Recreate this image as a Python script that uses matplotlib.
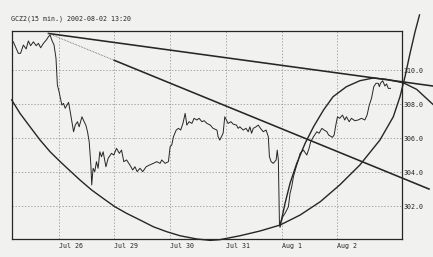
"""Intraday GCZ2 (15 min.) price chart with hand-drawn trend lines and arcs."""
import matplotlib
matplotlib.use("Agg")
import matplotlib.pyplot as plt

# ---- data (x = trading day index, Jul 26 = 1 ... Aug 2 = 6) ------------------

day_labels = ["Jul 26", "Jul 29", "Jul 30", "Jul 31", "Aug 1", "Aug 2"]
day_ticks = [1, 2, 3, 4, 5, 6]
price_ticks = [302.0, 304.0, 306.0, 308.0, 310.0]

price_t = [
    0.19, 0.28, 0.32, 0.37, 0.42, 0.46, 0.50, 0.55, 0.60, 0.64, 0.68, 0.73,
    0.78, 0.82, 0.85, 0.88, 0.92, 0.955, 0.98, 1.01, 1.06, 1.09, 1.12, 1.18,
    1.21, 1.24, 1.27, 1.30, 1.34, 1.37, 1.42, 1.46, 1.49, 1.52, 1.55, 1.58,
    1.595, 1.62, 1.65, 1.68, 1.71, 1.74, 1.77, 1.80, 1.85, 1.89, 1.95, 1.99,
    2.04, 2.09, 2.13, 2.17, 2.22, 2.28, 2.33, 2.37, 2.41, 2.46, 2.51, 2.57,
    2.63, 2.70, 2.76, 2.82, 2.85, 2.91, 2.97, 3.00, 3.03, 3.06, 3.11, 3.15,
    3.19, 3.23, 3.27, 3.30, 3.34, 3.39, 3.43, 3.48, 3.52, 3.57, 3.61, 3.66,
    3.72, 3.77, 3.84, 3.86, 3.89, 3.92, 3.95, 3.98, 4.01, 4.04, 4.09, 4.13,
    4.19, 4.22, 4.25, 4.31, 4.36, 4.40, 4.43, 4.46, 4.49, 4.54, 4.58, 4.62,
    4.67, 4.72, 4.76, 4.78, 4.81, 4.85, 4.90, 4.92, 4.94, 4.96, 5.02, 5.06,
    5.12, 5.15, 5.18, 5.21, 5.26, 5.30, 5.33, 5.39, 5.45, 5.49, 5.52, 5.57,
    5.63, 5.67, 5.72, 5.76, 5.81, 5.84, 5.87, 5.91, 5.94, 5.97, 6.00, 6.04,
    6.09, 6.13, 6.16, 6.21, 6.25, 6.31, 6.37, 6.43, 6.49, 6.53, 6.57, 6.61,
    6.65, 6.69, 6.73, 6.75, 6.77, 6.81, 6.85, 6.88, 6.91, 6.95,
]
price_v = [
    311.66, 310.98, 310.98, 311.47, 311.24, 311.71, 311.43, 311.66, 311.43,
    311.57, 311.31, 311.57, 311.76, 311.96, 312.06, 311.76, 311.47, 310.69,
    309.12, 308.72, 307.94, 308.04, 307.75, 308.10, 307.55, 306.96, 306.37,
    306.76, 306.96, 306.66, 307.25, 306.96, 306.76, 306.37, 305.78, 304.41,
    303.24, 304.22, 304.02, 304.61, 304.22, 305.19, 304.90, 305.19, 304.31,
    304.81, 305.10, 305.00, 305.39, 305.10, 305.29, 304.61, 304.71, 304.41,
    304.12, 304.31, 304.02, 304.22, 304.02, 304.31, 304.41, 304.51, 304.61,
    304.51, 304.71, 304.51, 304.61, 305.49, 305.59, 306.08, 306.47, 306.57,
    306.47, 306.86, 307.45, 306.76, 306.96, 306.86, 307.16, 307.06, 307.16,
    306.96, 307.02, 306.86, 306.76, 306.57, 306.47, 306.08, 305.88, 306.08,
    306.28, 307.25, 307.06, 306.86, 306.96, 306.82, 306.76, 306.57, 306.66,
    306.47, 306.57, 306.37, 306.66, 306.28, 306.57, 306.66, 306.76, 306.57,
    306.37, 306.47, 306.08, 304.90, 304.61, 304.51, 304.71, 305.29, 304.71,
    300.88, 301.37, 301.57, 301.96, 302.75, 303.14, 303.72, 304.31, 304.71,
    305.10, 305.29, 305.00, 305.39, 305.78, 306.08, 306.37, 306.28, 306.57,
    306.47, 306.37, 306.18, 306.12, 306.04, 306.18, 306.76, 307.25, 307.16,
    307.35, 307.06, 307.25, 306.96, 307.16, 307.02, 307.06, 307.16, 307.06,
    307.35, 307.94, 308.34, 309.02, 309.22, 309.22, 309.02, 309.22, 309.37,
    309.06, 309.18, 308.92, 308.92,
]

# trend lines drawn from the Jul 26 high
upper_line_t = [0.82, 7.71]
upper_line_v = [312.15, 309.06]
fan_dotted_t = [0.82, 2.00]
fan_dotted_v = [312.15, 310.57]
fan_solid_t = [2.00, 7.64]
fan_solid_v = [310.57, 303.00]

# large arc under the whole move
big_arc_t = [
    0.161, 0.31, 0.49, 0.67, 0.85, 1.03, 1.21, 1.385, 1.595, 1.80, 2.01,
    2.22, 2.46, 2.70, 2.94, 3.18, 3.48, 3.72, 3.89, 4.25, 4.61, 4.97, 5.33,
    5.69, 6.04, 6.40, 6.76, 7.00, 7.12, 7.21, 7.30, 7.39, 7.47,
]
big_arc_v = [
    308.24, 307.45, 306.66, 305.88, 305.19, 304.61, 304.06, 303.53, 302.94,
    302.45, 301.96, 301.57, 301.18, 300.78, 300.49, 300.25, 300.06, 299.98,
    300.02, 300.25, 300.53, 300.88, 301.47, 302.25, 303.24, 304.41, 305.88,
    307.25, 308.43, 309.61, 310.98, 312.25, 313.24,
]

# small arc from the Aug 1 low
small_arc_t = [
    4.97, 5.06, 5.15, 5.27, 5.42, 5.57, 5.75, 5.92, 6.16, 6.40, 6.64, 6.88,
    7.18, 7.42, 7.71,
]
small_arc_v = [
    300.78, 302.16, 303.34, 304.51, 305.69, 306.66, 307.65, 308.43, 309.02,
    309.37, 309.53, 309.45, 309.25, 308.86, 307.98,
]

# ---- style -------------------------------------------------------------------

PAPER = "#f1f1ef"
INK = "#262626"
MONO = "DejaVu Sans Mono"

fig = plt.figure(figsize=(4.33, 2.57), dpi=100, facecolor=PAPER)
ax = fig.add_axes([0.027, 0.070, 0.9014, 0.811], facecolor=PAPER)

ax.set_xlim(0.161, 7.156)
ax.set_ylim(300.06, 312.32)

# grid
ax.set_xticks(day_ticks)
ax.set_yticks(price_ticks)
ax.grid(True, color="#8a8a8a", linewidth=0.5, linestyle=(0, (2, 2.5)))
ax.set_axisbelow(True)

# price
ax.plot(price_t, price_v, color=INK, linewidth=0.7, zorder=3)

# trend lines / arcs (allowed to run past the frame, like the original)
ax.plot(upper_line_t, upper_line_v, color=INK, linewidth=1.15,
        clip_on=False, zorder=4)
ax.plot(fan_dotted_t, fan_dotted_v, color="#666666", linewidth=0.6,
        linestyle=(0, (1, 1)), clip_on=False, zorder=4)
ax.plot(fan_solid_t, fan_solid_v, color=INK, linewidth=1.15,
        clip_on=False, zorder=4)
ax.plot(big_arc_t, big_arc_v, color=INK, linewidth=1.0,
        clip_on=False, zorder=4, solid_joinstyle="round")
ax.plot(small_arc_t, small_arc_v, color=INK, linewidth=1.0,
        clip_on=False, zorder=4, solid_joinstyle="round")

# frame
for sp in ax.spines.values():
    sp.set_color(INK)
    sp.set_linewidth(0.9)

# tick labels: left-aligned dates below, prices on the right
ax.set_xticklabels(day_labels, fontfamily=MONO, fontsize=4.8, color=INK,
                   ha="left")
ax.tick_params(axis="x", length=0, pad=3)
ax.yaxis.tick_right()
ax.set_yticklabels([f"{v:.1f}" for v in price_ticks], fontfamily=MONO,
                   fontsize=4.8, color=INK)
ax.tick_params(axis="y", length=0, pad=1)

fig.text(0.025, 0.926, "GCZ2(15 min.) 2002-08-02 13:20", fontfamily=MONO,
         fontsize=4.8, color=INK, ha="left", va="center")

fig.savefig("out.png", dpi=100, facecolor=PAPER)
